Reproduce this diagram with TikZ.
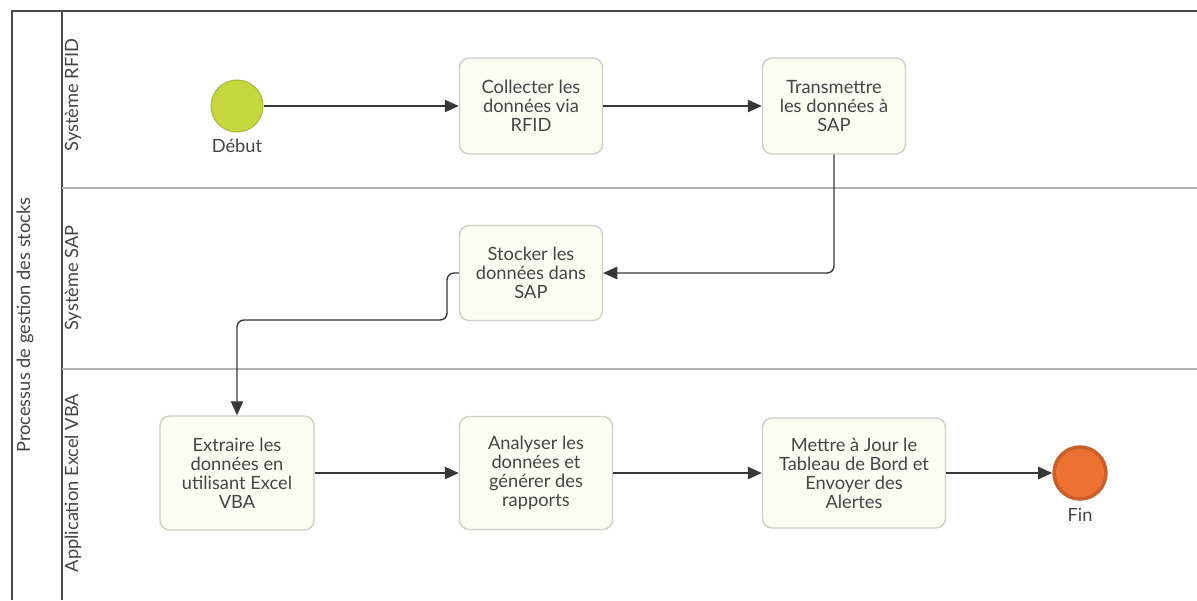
\documentclass[tikz,border=0pt]{standalone}
\usepackage{fontspec}
\setmainfont{Lato}
\usetikzlibrary{arrows.meta}
\definecolor{ink}{HTML}{454545}
\definecolor{poolline}{HTML}{4A4A4A}
\definecolor{laneline}{HTML}{B4B4B4}
\definecolor{taskfill}{HTML}{FDFCF3}
\definecolor{taskline}{HTML}{CFCFC6}
\definecolor{startfill}{HTML}{C6D63F}
\definecolor{startline}{HTML}{A8B83A}
\definecolor{endfill}{HTML}{EE7134}
\definecolor{endline}{HTML}{C8602C}
\begin{document}
\begin{tikzpicture}[x=0.02cm,y=-0.02cm,
  txt/.style={text=ink, font=\fontsize{10.4}{10.8}\selectfont},
  task/.style={txt, draw=taskline, fill=taskfill, line width=0.8pt,
    rounded corners=5.5pt, align=center, inner sep=2pt},
  flow/.style={draw=ink!80!black, line width=0.8pt, rounded corners=4pt,
    -{Triangle[length=8pt,width=7pt]}},
  lane/.style={txt, rotate=90}]
\useasboundingbox (0,0) rectangle (1197,600);
\fill[white] (0,0) rectangle (1197,600);

% pool and lanes
\draw[poolline, line width=1pt] (1197,11) -- (12,11) -- (12,600);
\draw[poolline, line width=1pt] (62,11) -- (62,600);
\draw[laneline, line width=1.2pt] (62,188) -- (1197,188);
\draw[laneline, line width=1.2pt] (62,369) -- (1197,369);
\node[lane] (pool) at (25,325) {Processus de gestion des stocks};
\node[lane] (rfid) at (73,95) {Système RFID};
\node[lane] (sap) at (73,278) {Système SAP};
\node[lane] (vba) at (73,483) {Application Excel VBA};

% events
\node[circle, draw=startline, fill=startfill, line width=0.6pt, minimum size=1.04cm] (debut) at (237,106) {};
\node[txt] (debutlbl) at (237,146) {Début};
\node[circle, draw=endline, fill=endfill, line width=2pt, minimum size=1.04cm] (fin) at (1080,473) {};
\node[txt] (finlbl) at (1080,515) {Fin};

% tasks
\node[task, minimum width=2.86cm, minimum height=1.92cm] (collecter) at (531,106) {Collecter les\\données via\\RFID};
\node[task, minimum width=2.86cm, minimum height=1.92cm] (transmettre) at (834,106) {Transmettre\\les données à\\SAP};
\node[task, minimum width=2.86cm, minimum height=1.90cm] (stocker) at (531,273) {Stocker les\\données dans\\SAP};
\node[task, minimum width=3.08cm, minimum height=2.28cm] (extraire) at (237,473) {Extraire les\\données en\\utilisant Excel\\VBA};
\node[task, minimum width=3.06cm, minimum height=2.26cm] (analyser) at (536,473) {Analyser les\\données et\\générer des\\rapports};
\node[task, minimum width=3.66cm, minimum height=2.20cm] (mettre) at (854,473) {Mettre à Jour le\\Tableau de Bord et\\Envoyer des\\Alertes};

% sequence flows
\coordinate (bend) at (447,320);
\draw[flow] (debut) -- (collecter);
\draw[flow] (collecter) -- (transmettre);
\draw[flow] (transmettre.south) |- (stocker.east);
\draw[flow] (stocker.west) -| (bend) -| (extraire.north);
\draw[flow] (extraire) -- (analyser);
\draw[flow] (analyser) -- (mettre);
\draw[flow] (mettre) -- (fin);
\end{tikzpicture}
\end{document}
